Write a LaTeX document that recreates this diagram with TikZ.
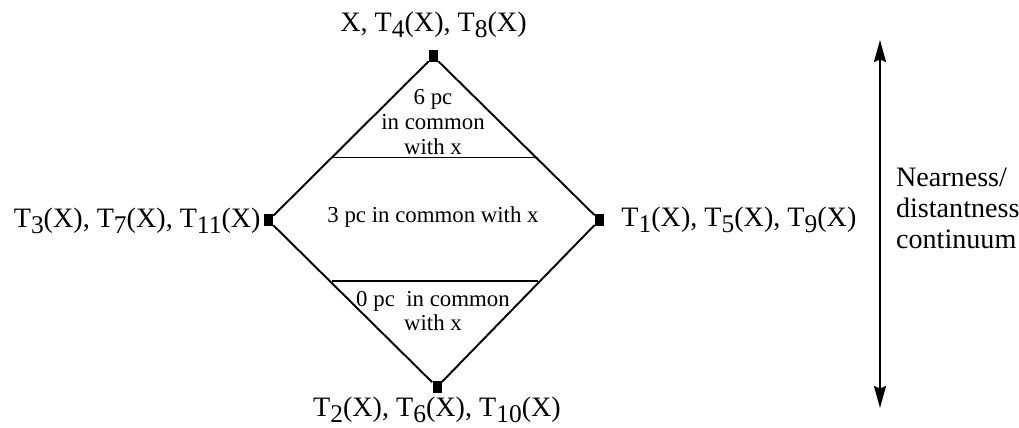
\documentclass[tikz,border=0pt]{standalone}
\usepackage{fontspec}
\setmainfont{Liberation Serif}
\usetikzlibrary{arrows.meta, positioning, calc}
\newcommand{\lowsub}[1]{\raisebox{-0.45ex}{\fontsize{14.5}{15}\selectfont #1}}

\begin{document}
\begin{tikzpicture}[x=0.02cm, y=-0.02cm]
  \tikzset{
    vert/.style={rectangle, fill=black, inner sep=0pt,
                 minimum width=1.8mm, minimum height=2.4mm},
    lab/.style={font=\fontsize{16}{17.6}\selectfont, inner sep=1pt},
    inlab/.style={font=\fontsize{13}{14}\selectfont, align=center, inner sep=0pt},
    edge/.style={line width=1.1pt}}
  \useasboundingbox (0,0) rectangle (1019,428);
  % corners of the diamond
  \node[vert] (vtop) at (433.5,56.5) {};
  \node[vert] (vleft) at (268.5,220.5) {};
  \node[vert] (vright) at (599.5,220) {};
  \node[vert] (vbot) at (437,387) {};
  \draw[edge] (vtop) -- (vleft) -- (vbot) -- (vright) -- (vtop);
  \coordinate (h1l) at (332,157.5);
  \coordinate (h1r) at (538,157.5);
  \coordinate (h2l) at (332,281);
  \coordinate (h2r) at (538,281);
  \draw[edge] (h1l) -- (h1r);
  \draw[edge] (h2l) -- (h2r);
  % labels at the corners
  \node[lab, above=2.1mm of vtop] (ltop) {X, T\lowsub{4}(X), T\lowsub{8}(X)};
  \node[lab, left=0.2mm of vleft] (lleft) {T\lowsub{3}(X), T\lowsub{7}(X), T\lowsub{11}(X)};
  \node[lab, right=3mm of vright] (lright) {T\lowsub{1}(X), T\lowsub{5}(X), T\lowsub{9}(X)};
  \node[lab, below=0.3mm of vbot] (lbot) {T\lowsub{2}(X), T\lowsub{6}(X), T\lowsub{10}(X)};
  % texts inside
  \node[inlab] (t6) at (433,122) {6 pc\\in common\\with x};
  \node[inlab] (t3) at (433,217) {3 pc in common with x};
  \node[inlab] (t0) at (433,311) {0 pc\ \ in common\\with x};
  % continuum arrow
  \coordinate (atop) at (880,40);
  \coordinate (abot) at (880,408);
  \draw[line width=1.1pt, {Stealth[length=4.4mm, width=2.4mm, inset=0.5mm]}-{Stealth[length=4.4mm, width=2.4mm, inset=0.5mm]}] (atop) -- (abot);
  \node[lab, align=left, anchor=west] (cont) at (894,208) {Nearness/\\distantness\\continuum};
\end{tikzpicture}
\end{document}
